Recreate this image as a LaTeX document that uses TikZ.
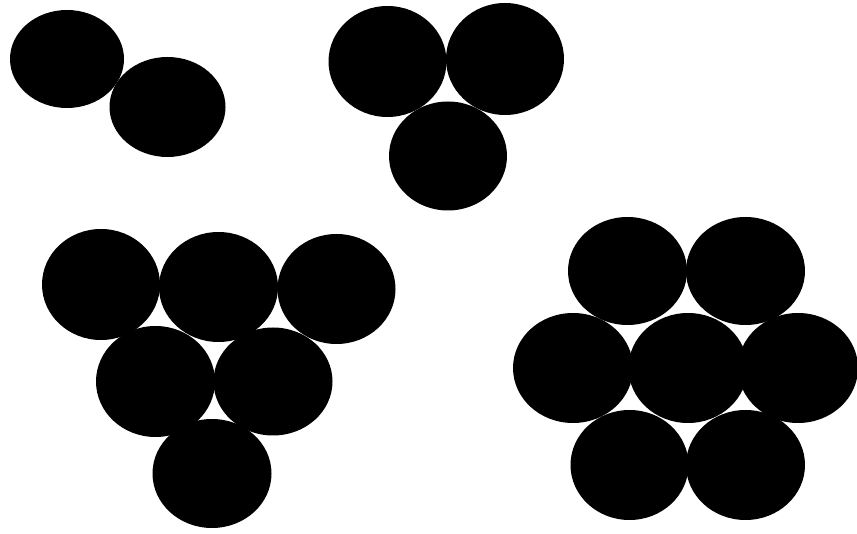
\documentclass[tikz,border=0pt]{standalone}
\begin{document}
\begin{tikzpicture}[x=1pt,y=-1pt,
  disc/.style={fill=black}]
\useasboundingbox (0,0) rectangle (857,534);
\fill[white] (0,0) rectangle (857,534);
% group 1
\fill[disc] (67,59) ellipse [x radius=57, y radius=49];
\fill[disc] (167.5,107) ellipse [x radius=58, y radius=50];
% group 2
\fill[disc] (387.5,61.5) ellipse [x radius=59, y radius=55.5];
\fill[disc] (505,59) ellipse [x radius=59, y radius=56];
\fill[disc] (448,156) ellipse [x radius=59, y radius=54.5];
% group 3
\fill[disc] (101,284.5) ellipse [x radius=59, y radius=55.5];
\fill[disc] (218.5,287) ellipse [x radius=59.5, y radius=55];
\fill[disc] (336.5,289) ellipse [x radius=59, y radius=55];
\fill[disc] (155.5,381.5) ellipse [x radius=59.5, y radius=55.5];
\fill[disc] (273,381.5) ellipse [x radius=59.5, y radius=54];
\fill[disc] (212,473.5) ellipse [x radius=59.5, y radius=54.5];
% group 4
\fill[disc] (627.5,271) ellipse [x radius=59.5, y radius=54];
\fill[disc] (745.5,271) ellipse [x radius=59.5, y radius=54];
\fill[disc] (573,368) ellipse [x radius=60, y radius=55];
\fill[disc] (688,368) ellipse [x radius=59.5, y radius=55];
\fill[disc] (798,368) ellipse [x radius=60, y radius=55];
\fill[disc] (629.5,465) ellipse [x radius=59, y radius=55];
\fill[disc] (745.5,465) ellipse [x radius=59.5, y radius=55];
\end{tikzpicture}
\end{document}
